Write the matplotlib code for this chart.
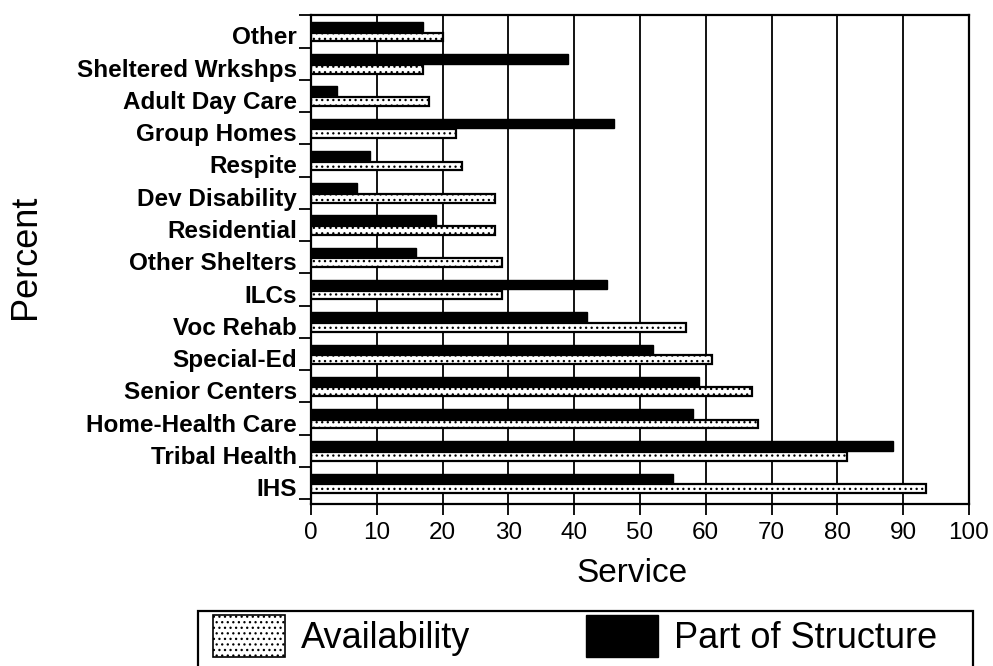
import matplotlib
matplotlib.use('Agg')
import matplotlib.pyplot as plt
import matplotlib.transforms as mtransforms
from matplotlib.patches import Rectangle, Patch
import numpy as np

plt.rcParams['font.family'] = ['Liberation Sans', 'DejaVu Sans']
plt.rcParams['hatch.linewidth'] = 0.9

# Services, top to bottom as in the chart
services = ['Other', 'Sheltered Wrkshps', 'Adult Day Care', 'Group Homes',
            'Respite', 'Dev Disability', 'Residential', 'Other Shelters',
            'ILCs', 'Voc Rehab', 'Special-Ed', 'Senior Centers',
            'Home-Health Care', 'Tribal Health', 'IHS']
part_of_structure = [17, 39, 4, 46, 9, 7, 19, 16, 45, 42, 52, 59, 58, 88.5, 55]
availability = [20, 17, 18, 22, 23, 28, 28, 29, 29, 57, 61, 67, 68, 81.5, 93.5]
x_ticks = [0, 10, 20, 30, 40, 50, 60, 70, 80, 90, 100]

fig = plt.figure(figsize=(9.93, 6.66), dpi=100)
ax = fig.add_axes([0.3132, 0.2432, 0.6626, 0.7338])

n = len(services)
ypos = np.arange(n)[::-1]  # Other at top

# gridlines behind the bars
for v in x_ticks[1:-1]:
    ax.axvline(v, color='black', lw=1.3, zorder=0)

ax.barh(ypos + 0.15, part_of_structure, height=0.29, color='black',
        edgecolor='black', lw=1, zorder=2)
ax.barh(ypos - 0.17, availability, height=0.27, color='white',
        edgecolor='black', hatch='...', lw=1.6, zorder=2)

ax.set_xlim(0, 100)
ax.set_ylim(-0.65, n - 0.5)
ax.set_xticks(x_ticks)
ax.set_xticklabels([str(t) for t in x_ticks], fontsize=17.5)
ax.tick_params(axis='x', direction='out', length=8, width=1.3, pad=5)

# category labels at centres, ticks at boundaries
ax.set_yticks(ypos)
ax.set_yticklabels(services, fontsize=17.5, fontweight='bold')
ax.tick_params(axis='y', which='major', length=0, pad=10)
ax.set_yticks(np.arange(n + 1) - 0.5, minor=True)
ax.tick_params(axis='y', which='minor', direction='out', length=9, width=1.3)
offset = mtransforms.ScaledTranslation(0, -4 / 100, fig.dpi_scale_trans)
for lbl in ax.get_yticklabels():
    lbl.set_transform(lbl.get_transform() + offset)

for s in ax.spines.values():
    s.set_linewidth(1.6)

fig.text(25 / 993, 1 - 257 / 666, 'Percent', rotation=90, fontsize=26,
         ha='center', va='center')
fig.text(632 / 993, 1 - 574 / 666, 'Service', fontsize=24,
         ha='center', va='center')

# legend box running off the bottom edge
fig.patches.append(Rectangle((198 / 993, -0.05), 775 / 993, 0.05 + 55 / 666,
                             transform=fig.transFigure, fill=False,
                             lw=1.6, edgecolor='black'))
handles = [Patch(facecolor='white', edgecolor='black', hatch='...', lw=1.2,
                 label='Availability'),
           Patch(facecolor='black', edgecolor='black', label='Part of Structure')]
fig.legend(handles=handles, loc='center left', ncol=2, frameon=False,
           bbox_to_anchor=(180 / 993, 1 - 636 / 666), fontsize=26,
           handlelength=2.0, handleheight=1.4, handletextpad=0.45,
           columnspacing=3.2)

fig.savefig('out.png', dpi=100)
